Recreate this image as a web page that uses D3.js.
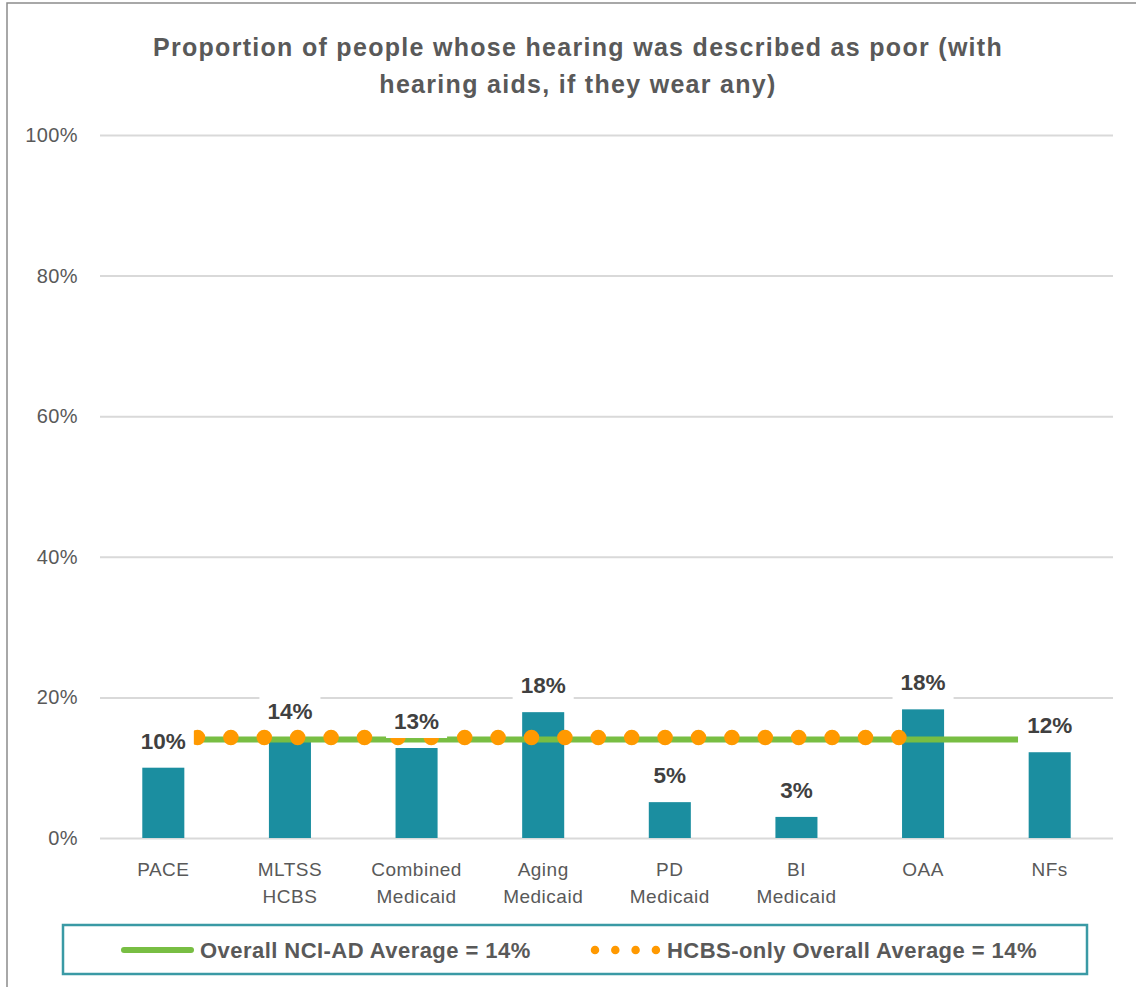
<!DOCTYPE html>
<html>
<head>
<meta charset="utf-8">
<script src="https://cdn.jsdelivr.net/npm/d3@7"></script>
<style>
  html, body { margin: 0; padding: 0; background: #fff; }
  svg { display: block; }
</style>
</head>
<body>
<svg id="chart" width="1136" height="987"></svg>
<script>
// ---------- data ----------
const categories = [["PACE"], ["MLTSS", "HCBS"], ["Combined", "Medicaid"], ["Aging", "Medicaid"],
                    ["PD", "Medicaid"], ["BI", "Medicaid"], ["OAA"], ["NFs"]];
const values = [10.0, 14.2, 12.8, 17.9, 5.1, 3.0, 18.3, 12.2];
const valueLabels = ["10%", "14%", "13%", "18%", "5%", "3%", "18%", "12%"];
const yTicks = [0, 20, 40, 60, 80, 100];
const overallAvg = 14.0;
const hcbsAvg = 14.3;
// extents of the average lines, in category-index units (secondary x axis 0..8)
const overallExtent = [0.77, 7.25];
const hcbsExtent = [0.77, 6.31];
const titleLines = ["Proportion of people whose hearing was described as poor (with",
                    "hearing aids, if they wear any)"];
const legendLabels = ["Overall NCI-AD Average = 14%", "HCBS-only Overall Average = 14%"];

// ---------- layout ----------
const svg = d3.select("#chart");
const plot = { left: 100, right: 1113, top: 135, bottom: 838 };
const FONT = "'Liberation Sans', Arial, sans-serif";
const GRAY = "#595959";

const x = d3.scaleBand().domain(d3.range(categories.length))
  .range([plot.left, plot.right]).paddingInner(0.668).paddingOuter(0.334);
const x2 = d3.scaleLinear().domain([0, categories.length]).range([plot.left, plot.right]);
const y = d3.scaleLinear().domain([0, 100]).range([plot.bottom, plot.top]);

// outer border
svg.append("path").attr("d", "M7,987 L7,3 L1136,3")
  .attr("fill", "none").attr("stroke", "#8c8c8c").attr("stroke-width", 1.5);

// title
svg.append("g").selectAll("text").data(titleLines).join("text")
  .attr("x", 578).attr("y", (d, i) => 56 + i * 37)
  .attr("text-anchor", "middle")
  .attr("font-family", FONT).attr("font-weight", "bold").attr("font-size", 25)
  .attr("letter-spacing", 1.3)
  .attr("fill", GRAY).text(d => d);

// gridlines + y axis
const yAxis = d3.axisLeft(y).tickValues(yTicks).tickFormat(d => d + "%")
  .tickSize(-(plot.right - plot.left)).tickPadding(22);
const gy = svg.append("g").attr("transform", `translate(${plot.left},0)`).call(yAxis);
gy.select(".domain").remove();
gy.selectAll(".tick line").attr("stroke", "#d9d9d9").attr("stroke-width", 2);
gy.selectAll(".tick text").attr("font-family", FONT).attr("font-size", 20)
  .attr("letter-spacing", 0.4).attr("fill", GRAY);

// bars
svg.append("g").selectAll("rect").data(values).join("rect")
  .attr("x", (d, i) => x(i)).attr("width", x.bandwidth())
  .attr("y", d => y(d)).attr("height", d => y(0) - y(d))
  .attr("fill", "#1b8ea0");

// average lines
const line = d3.line().x(d => x2(d[0])).y(d => y(d[1]));
svg.append("path")
  .attr("d", line(overallExtent.map(v => [v, overallAvg])))
  .attr("fill", "none").attr("stroke", "#78be43").attr("stroke-width", 6);
svg.append("path")
  .attr("d", line(hcbsExtent.map(v => [v, hcbsAvg])))
  .attr("fill", "none").attr("stroke", "#ff9900").attr("stroke-width", 15.5)
  .attr("stroke-linecap", "round").attr("stroke-dasharray", "0 33.4");

// data labels with white boxes
const lab = svg.append("g");
values.forEach((v, i) => {
  const g = lab.append("g");
  const rect = g.append("rect").attr("fill", "#fff");
  const t = g.append("text")
    .attr("x", x(i) + x.bandwidth() / 2).attr("y", y(v) - 19)
    .attr("text-anchor", "middle")
    .attr("font-family", FONT).attr("font-weight", "bold").attr("font-size", 22.5)
    .attr("fill", "#404040").text(valueLabels[i]);
  const bb = t.node().getBBox();
  rect.attr("x", bb.x - 8).attr("y", bb.y - 4).attr("width", bb.width + 16).attr("height", bb.height + 8);
});

// category labels
const xl = svg.append("g");
categories.forEach((lines, i) => {
  xl.append("text")
    .attr("x", x(i) + x.bandwidth() / 2).attr("y", 876)
    .attr("text-anchor", "middle")
    .attr("font-family", FONT).attr("font-size", 19).attr("letter-spacing", 0.5).attr("fill", GRAY)
    .selectAll("tspan").data(lines).join("tspan")
    .attr("x", x(i) + x.bandwidth() / 2).attr("dy", (d, j) => j === 0 ? 0 : 27)
    .text(d => d);
});

// legend
const lg = svg.append("g");
lg.append("rect").attr("x", 63).attr("y", 925).attr("width", 1024).attr("height", 49)
  .attr("fill", "#fff").attr("stroke", "#3a9aa5").attr("stroke-width", 2.5);
lg.append("line").attr("x1", 124).attr("x2", 191).attr("y1", 950).attr("y2", 950)
  .attr("stroke", "#78be43").attr("stroke-width", 6).attr("stroke-linecap", "round");
lg.append("text").attr("x", 200).attr("y", 958)
  .attr("font-family", FONT).attr("font-weight", "bold").attr("font-size", 22)
  .attr("letter-spacing", 0.45)
  .attr("fill", GRAY).text(legendLabels[0]);
lg.append("line").attr("x1", 595).attr("x2", 656).attr("y1", 950).attr("y2", 950)
  .attr("stroke", "#ff9900").attr("stroke-width", 8.5).attr("stroke-linecap", "round")
  .attr("stroke-dasharray", "0 20.3");
lg.append("text").attr("x", 667).attr("y", 958)
  .attr("font-family", FONT).attr("font-weight", "bold").attr("font-size", 22)
  .attr("letter-spacing", 0.45)
  .attr("fill", GRAY).text(legendLabels[1]);
</script>
</body>
</html>
